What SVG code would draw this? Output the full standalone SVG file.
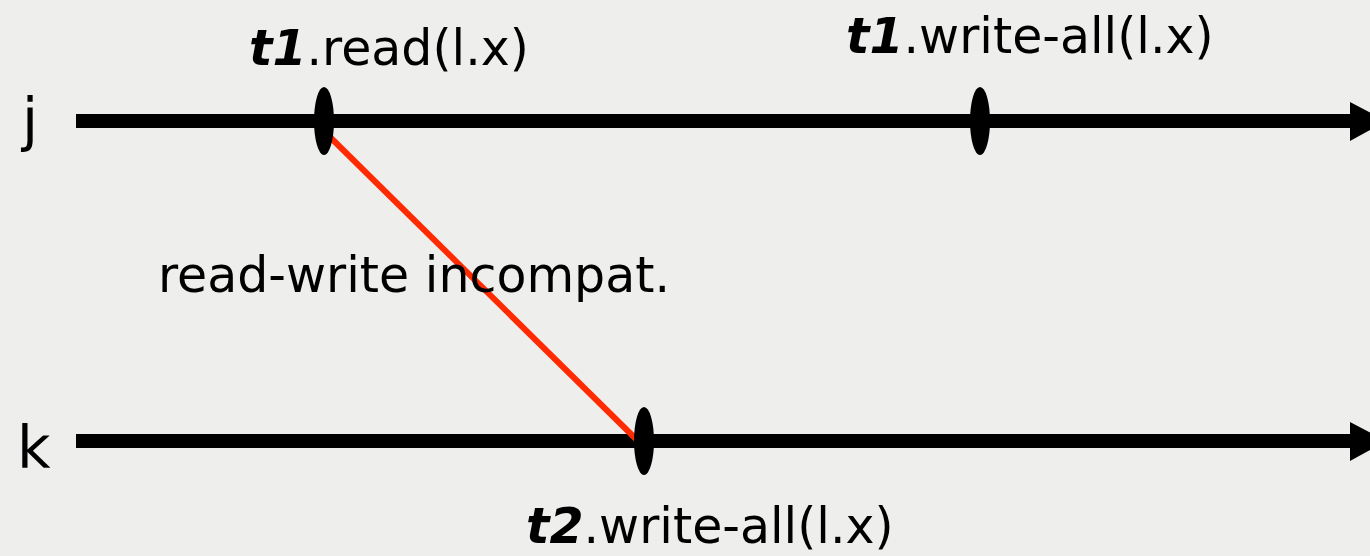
<svg xmlns="http://www.w3.org/2000/svg" width="1370" height="556" viewBox="0 0 1370 556">
  <defs>
    <style>
      .lbl { font-family: "DejaVu Sans", Verdana, sans-serif; font-size: 49px; fill: #000; }
      .proc { font-family: "DejaVu Sans", Verdana, sans-serif; font-size: 58px; fill: #000; }
      .tx { font-weight: bold; font-style: italic; }
      .axis { stroke: #000; stroke-width: 14; fill: none; }
      .evt { fill: #000; }
      .dep { stroke: #ff2a00; stroke-width: 6; fill: none; }
    </style>
  </defs>
  <rect x="0" y="0" width="1370" height="556" fill="#eeefed"/>

  <g id="connectors">
    <line class="axis" x1="76" y1="121" x2="1352" y2="121"/>
    <polygon points="1350,102 1386,121 1350,141" fill="#000"/>
    <line class="axis" x1="76" y1="441" x2="1352" y2="441"/>
    <polygon points="1350,422 1386,441 1350,461" fill="#000"/>
    <line class="dep" x1="330" y1="137" x2="637" y2="440"/>
  </g>

  <g id="node-j">
    <text class="proc" x="22" y="140">j</text>
  </g>
  <g id="node-k">
    <text class="proc" x="17" y="468">k</text>
  </g>

  <g id="node-t1-read">
    <ellipse class="evt" cx="324" cy="121" rx="10" ry="34"/>
    <text class="lbl" x="249" y="65"><tspan class="tx">t1</tspan>.read(l.x)</text>
  </g>
  <g id="node-t1-write-all">
    <ellipse class="evt" cx="980" cy="121" rx="10" ry="34"/>
    <text class="lbl" x="846" y="53"><tspan class="tx">t1</tspan>.write-all(l.x)</text>
  </g>
  <g id="node-t2-write-all">
    <ellipse class="evt" cx="644" cy="441" rx="10" ry="34"/>
    <text class="lbl" x="526" y="543"><tspan class="tx">t2</tspan>.write-all(l.x)</text>
  </g>

  <g id="label-incompat">
    <text class="lbl" x="158" y="292">read-write incompat.</text>
  </g>
</svg>
